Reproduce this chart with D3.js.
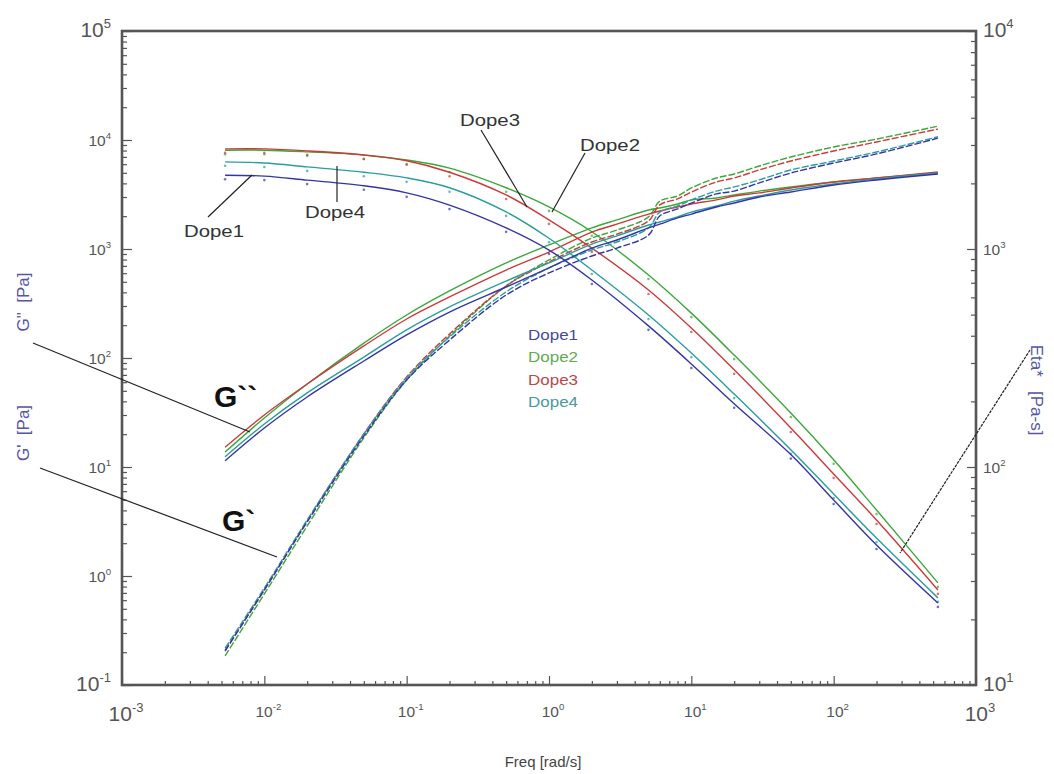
<!DOCTYPE html>
<html><head><meta charset="utf-8">
<script src="https://cdn.jsdelivr.net/npm/d3@7"></script>
<style>
html,body{margin:0;padding:0;background:#fff;}
text{font-family:"Liberation Sans",Arial,sans-serif;}
</style></head>
<body><svg id="c" width="1054" height="774"></svg>
<script>
// ---------- data ----------
const dopes = ["Dope1", "Dope2", "Dope3", "Dope4"];
const freqMod = [0.0053, 0.01, 0.02, 0.05, 0.1, 0.2, 0.5, 1, 2, 3, 5, 6, 8, 10, 15, 20, 30, 50, 100, 200, 540];
const freqEta = [0.0053, 0.01, 0.02, 0.05, 0.1, 0.2, 0.5, 1, 2, 5, 10, 20, 50, 100, 200, 540];

// G' storage modulus [Pa]
const gp1 = [0.205, 0.745, 3.13, 19.2, 62.8, 146, 378, 603, 863, 1020, 1340, 2010, 2330, 2640, 3200, 3400, 4040, 4980, 6150, 7450, 10400];
const gp2 = [0.185, 0.684, 2.88, 18.5, 62.8, 159, 458, 793, 1260, 1490, 1970, 2750, 3060, 3630, 4480, 4880, 5770, 6980, 8630, 10200, 13400];
const gp3 = [0.209, 0.745, 3.20, 20.1, 67.0, 166, 458, 760, 1160, 1370, 1810, 2540, 2880, 3330, 4120, 4480, 5310, 6410, 7930, 9590, 12600];
const gp4 = [0.218, 0.776, 3.27, 20.1, 65.6, 156, 404, 670, 979, 1160, 1560, 2180, 2480, 2820, 3400, 3710, 4300, 5310, 6410, 7760, 10700];

// G'' loss modulus [Pa]
const gpp1 = [11.4, 22.8, 43.9, 93.8, 163, 264, 448, 670, 1020, 1210, 1560, 1690, 1930, 2090, 2430, 2640, 3000, 3330, 3870, 4300, 4880];
const gpp2 = [13.7, 28.2, 57.7, 137, 248, 412, 745, 1090, 1560, 1850, 2280, 2380, 2590, 2820, 2940, 3130, 3400, 3710, 4120, 4480, 4980];
const gpp3 = [15.2, 30.0, 57.7, 129, 228, 363, 641, 938, 1430, 1690, 2090, 2230, 2430, 2590, 2820, 3060, 3270, 3630, 4120, 4480, 5090];
const gpp4 = [12.4, 24.8, 47.8, 102, 181, 294, 508, 745, 1110, 1320, 1660, 1770, 1970, 2180, 2480, 2750, 3060, 3480, 3950, 4390, 4980];

// Eta* complex viscosity [Pa-s]
const eta1 = [2180, 2160, 2070, 1950, 1810, 1590, 1250, 989, 721, 444, 297, 195, 114, 70.6, 43.9, 23.8];
const eta2 = [2840, 2840, 2790, 2700, 2560, 2350, 1910, 1560, 1200, 760, 508, 326, 177, 108, 63.5, 29.4];
const eta3 = [2880, 2880, 2820, 2700, 2540, 2250, 1770, 1360, 1010, 649, 434, 279, 151, 92.9, 57.1, 27.3];
const eta4 = [2510, 2480, 2380, 2250, 2120, 1910, 1480, 1120, 801, 498, 333, 216, 120, 75.2, 47.2, 25.1];

const xTicks = [1e-3, 1e-2, 1e-1, 1e0, 1e1, 1e2, 1e3];
const xTickExp = ["-3", "-2", "-1", "0", "1", "2", "3"];
const yLTicks = [1e-1, 1e0, 1e1, 1e2, 1e3, 1e4, 1e5];
const yLTickExp = ["-1", "0", "1", "2", "3", "4", "5"];
const yRTicks = [1e1, 1e2, 1e3, 1e4];
const yRTickExp = ["1", "2", "3", "4"];

// ---------- styles ----------
const lineColors = ["#3535a8", "#3aa83a", "#cc3a3a", "#2a9e9e"];
const legendColors = ["#4848a4", "#62aa52", "#b84a4a", "#4a9a9a"];
const axisColor = "#555";
const labelColor = "#555";

const svg = d3.select("#c");
const L = 122, R = 976, T = 31, B = 685;

const x = d3.scaleLog().domain([1e-3, 1e3]).range([L, R]);
const yL = d3.scaleLog().domain([1e-1, 1e5]).range([B, T]);
const yR = d3.scaleLog().domain([1e1, 1e4]).range([B, T]);

function logTicks(lo, hi) {
  const out = [];
  for (let e = Math.round(Math.log10(lo)); e < Math.round(Math.log10(hi)); e++)
    for (let k = 2; k <= 9; k++) out.push(k * Math.pow(10, e));
  return out;
}

// axes (ticks inward)
const gx = svg.append("g").attr("transform", `translate(0,${B})`);
gx.call(d3.axisTop(x).tickValues(logTicks(1e-3, 1e3)).tickSize(4).tickFormat(""));
const gx2 = svg.append("g").attr("transform", `translate(0,${B})`);
gx2.call(d3.axisTop(x).tickValues(xTicks).tickSize(9).tickFormat(""));

const gyl = svg.append("g").attr("transform", `translate(${L},0)`);
gyl.call(d3.axisRight(yL).tickValues(logTicks(1e-1, 1e5)).tickSize(5).tickFormat(""));
const gyl2 = svg.append("g").attr("transform", `translate(${L},0)`);
gyl2.call(d3.axisRight(yL).tickValues(yLTicks).tickSize(10).tickFormat(""));

const gyr = svg.append("g").attr("transform", `translate(${R},0)`);
gyr.call(d3.axisLeft(yR).tickValues(logTicks(1e1, 1e4)).tickSize(5).tickFormat(""));
const gyr2 = svg.append("g").attr("transform", `translate(${R},0)`);
gyr2.call(d3.axisLeft(yR).tickValues(yRTicks).tickSize(9).tickFormat(""));

svg.selectAll(".domain").remove();
svg.selectAll(".tick line").attr("stroke", axisColor).attr("stroke-width", 1.2);

// frame
svg.append("rect").attr("x", L).attr("y", T).attr("width", R - L).attr("height", B - T)
  .attr("fill", "none").attr("stroke", axisColor).attr("stroke-width", 2.6);

// tick labels
function powLabel(g, x0, y0, exp, size, anchor) {
  const t = g.append("text").attr("x", x0).attr("y", y0).attr("text-anchor", anchor)
    .attr("fill", labelColor).attr("font-size", size);
  t.append("tspan").text("10");
  t.append("tspan").attr("dy", -size * 0.45).attr("font-size", size * 0.62).text(exp);
}
const labG = svg.append("g");
xTicks.forEach((v, i) => {
  const big = (i === 0 || i === xTicks.length - 1);
  powLabel(labG, x(v) + 4, big ? 721 : 717, xTickExp[i], big ? 21 : 15.5, "middle");
});
yLTicks.forEach((v, i) => {
  const big = (i === 0 || i === yLTicks.length - 1);
  powLabel(labG, 111, yL(v) + 6, yLTickExp[i], big ? 21 : 15.5, "end");
});
yRTicks.forEach((v, i) => {
  const big = (i === 0 || i === yRTicks.length - 1);
  powLabel(labG, 983, yR(v) + 6, yRTickExp[i], big ? 21 : 15.5, "start");
});

// axis titles
svg.append("text").attr("x", 543).attr("y", 767).attr("text-anchor", "middle")
  .attr("font-size", 15).attr("fill", "#444").text("Freq [rad/s]");
svg.append("text").attr("transform", "translate(29,302) rotate(-90)").attr("text-anchor", "middle")
  .attr("font-size", 17).attr("fill", "#5656a8").attr("xml:space", "preserve").text("G\"  [Pa]");
svg.append("text").attr("transform", "translate(29,433) rotate(-90)").attr("text-anchor", "middle")
  .attr("font-size", 17).attr("fill", "#5656a8").attr("xml:space", "preserve").text("G'  [Pa]");
svg.append("text").attr("transform", "translate(1031,390) rotate(90)").attr("text-anchor", "middle")
  .attr("font-size", 17).attr("fill", "#5656a8").attr("xml:space", "preserve").text("Eta*   [Pa-s]");

// series
const gpAll = [gp1, gp2, gp3, gp4];
const gppAll = [gpp1, gpp2, gpp3, gpp4];
const etaAll = [eta1, eta2, eta3, eta4];

const curve = d3.curveCatmullRom.alpha(0.5);
const lineL = d3.line().x(d => x(d[0])).y(d => yL(d[1])).curve(curve);
const lineR = d3.line().x(d => x(d[0])).y(d => yR(d[1])).curve(curve);
const plot = svg.append("g");

[1, 2, 3, 0].forEach(i => {
  plot.append("path").datum(d3.zip(freqEta, etaAll[i])).attr("d", lineR)
    .attr("fill", "none").attr("stroke", lineColors[i]).attr("stroke-width", 1.4);
  plot.append("path").datum(d3.zip(freqMod, gppAll[i])).attr("d", lineL)
    .attr("fill", "none").attr("stroke", lineColors[i]).attr("stroke-width", 1.4);
  plot.append("path").datum(d3.zip(freqMod, gpAll[i])).attr("d", lineL)
    .attr("fill", "none").attr("stroke", lineColors[i]).attr("stroke-width", 1.4)
    .attr("stroke-dasharray", "7,2");
  plot.selectAll(null).data(d3.zip(freqEta, etaAll[i])).enter().append("circle")
    .attr("cx", d => x(d[0])).attr("cy", d => yR(d[1]) + 4).attr("r", 1.3)
    .attr("fill", lineColors[i]).attr("opacity", 0.7);
});

// legend
const lg = svg.append("g");
dopes.forEach((d, i) => {
  lg.append("text").attr("x", 528).attr("y", 340 + i * 22.3).attr("font-size", 15)
    .attr("fill", legendColors[i]).attr("textLength", 50).attr("lengthAdjust", "spacingAndGlyphs").text(d);
});

// annotations
const ann = svg.append("g").attr("stroke", "#222").attr("stroke-width", 1.2);
[[33, 343, 250, 432], [40, 468, 277, 557], [208, 217, 252, 175], [337, 166, 337, 202],
 [481, 130, 527, 207], [585, 153, 552, 212]].forEach(s => {
  ann.append("line").attr("x1", s[0]).attr("y1", s[1]).attr("x2", s[2]).attr("y2", s[3]);
});
ann.append("line").attr("x1", 1030).attr("y1", 350).attr("x2", 900).attr("y2", 553)
  .attr("stroke-dasharray", "3,1");

const annText = [["Dope3", 460, 126], ["Dope2", 580, 151], ["Dope1", 184, 237], ["Dope4", 305, 218]];
annText.forEach(a => {
  svg.append("text").attr("x", a[1]).attr("y", a[2]).attr("font-size", 17).attr("fill", "#333")
    .attr("textLength", 60).attr("lengthAdjust", "spacingAndGlyphs").text(a[0]);
});
svg.append("text").attr("x", 214).attr("y", 407).attr("font-size", 30).attr("font-weight", "bold")
  .attr("font-family", "'Open Sans', sans-serif").attr("fill", "#111").text("G``");
svg.append("text").attr("x", 222).attr("y", 531).attr("font-size", 30).attr("font-weight", "bold")
  .attr("font-family", "'Open Sans', sans-serif").attr("fill", "#111").text("G`");
</script></body></html>
